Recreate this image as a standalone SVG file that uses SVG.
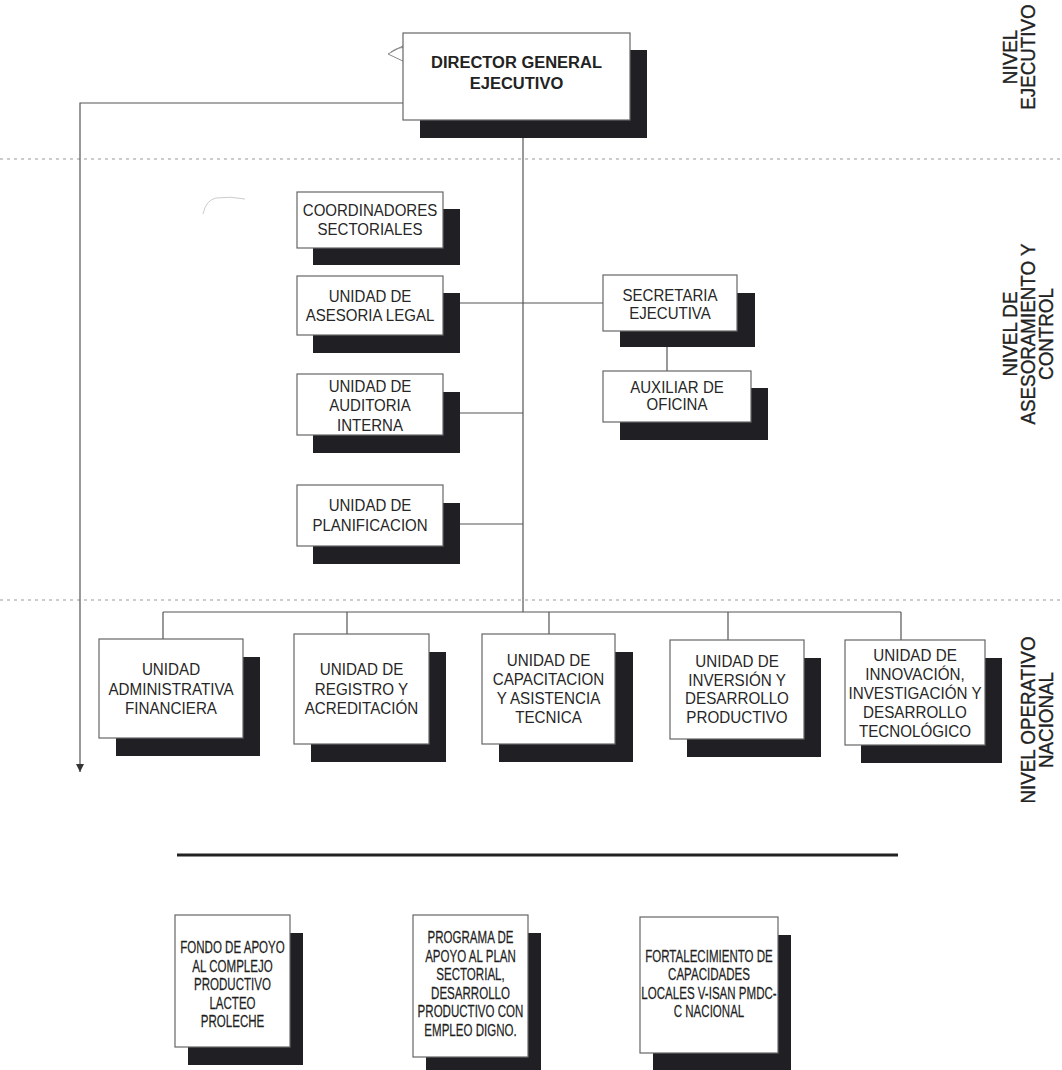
<svg xmlns="http://www.w3.org/2000/svg" width="1062" height="1070" viewBox="0 0 1062 1070">
<defs>
<marker id="arr" viewBox="0 0 10 10" refX="10" refY="5" markerWidth="10" markerHeight="8" orient="auto" markerUnits="userSpaceOnUse">
<path d="M0 0 L10 5 L0 10 Z" fill="#333"/>
</marker>
<style>
.box{fill:#fff;stroke:#666;stroke-width:1.2}
.sh{fill:#202024}
.t{font-family:"Liberation Sans",Arial,sans-serif;font-size:16px;fill:#262626;text-anchor:middle}
.tb{font-family:"Liberation Sans",Arial,sans-serif;font-size:17px;font-weight:bold;fill:#222;text-anchor:middle}
.ts{font-family:"Liberation Sans",Arial,sans-serif;font-size:17px;fill:#1e1e1e;stroke:#1e1e1e;stroke-width:0.25;text-anchor:middle}
.tv{font-family:"Liberation Sans",Arial,sans-serif;font-size:20px;fill:#222;stroke:#222;stroke-width:0.35;text-anchor:middle}
.ln{fill:none;stroke:#555;stroke-width:1.2}
.dot{fill:none;stroke:#999;stroke-width:1.2;stroke-dasharray:3 4}
</style>
</defs>
<rect width="1062" height="1070" fill="#fff"/>

<g id="level-lines">
<line class="dot" x1="0" y1="159" x2="1062" y2="159"/>
<line class="dot" x1="0" y1="600" x2="1062" y2="600"/>
</g>

<g id="connectors">
<path class="ln" d="M523 120 V612"/>
<path class="ln" d="M443 303 H603"/>
<path class="ln" d="M667 331 V371"/>
<path class="ln" d="M443 413 H523"/>
<path class="ln" d="M443 524 H523"/>
<path class="ln" d="M163 612 H901"/>
<path class="ln" d="M163 612 V639 M347 612 V634 M549 612 V634 M728 612 V640 M901 612 V640"/>
<path class="ln" d="M403 103 H80 V772" marker-end="url(#arr)"/>
<path fill="none" stroke="#222" stroke-width="3" d="M177 855 H898"/>
</g>

<g id="marks">
<path d="M410 42 L388 54 L407 63 M391 52 Q399 46 407 48" fill="none" stroke="#888" stroke-width="1"/>
<path d="M203 214 Q206 200 216 198 Q230 196 245 199" fill="none" stroke="#ccc" stroke-width="1"/>
</g>

<g id="director">
<rect class="sh" x="420" y="50" width="227" height="88"/>
<rect class="box" x="403" y="33" width="227" height="87"/>
<g transform="translate(516.5 0) scale(0.97 1)">
<text class="tb" x="0" y="68">DIRECTOR GENERAL</text>
<text class="tb" x="0" y="89">EJECUTIVO</text>
</g>
</g>

<g id="coordinadores">
<rect class="sh" x="313" y="209" width="147" height="56"/>
<rect class="box" x="297" y="192" width="146" height="56"/>
<g transform="translate(370 0) scale(0.94 1)">
<text class="t" x="0" y="216">COORDINADORES</text>
<text class="t" x="0" y="235">SECTORIALES</text>
</g>
</g>

<g id="asesoria">
<rect class="sh" x="313" y="293" width="147" height="60"/>
<rect class="box" x="297" y="276" width="146" height="59"/>
<g transform="translate(370 0) scale(0.94 1)">
<text class="t" x="0" y="302">UNIDAD DE</text>
<text class="t" x="0" y="321">ASESORIA LEGAL</text>
</g>
</g>

<g id="auditoria">
<rect class="sh" x="313" y="392" width="147" height="61"/>
<rect class="box" x="297" y="374" width="146" height="61"/>
<g transform="translate(370 0) scale(0.94 1)">
<text class="t" x="0" y="392">UNIDAD DE</text>
<text class="t" x="0" y="411">AUDITORIA</text>
<text class="t" x="0" y="431">INTERNA</text>
</g>
</g>

<g id="planificacion">
<rect class="sh" x="313" y="503" width="147" height="61"/>
<rect class="box" x="297" y="485" width="146" height="61"/>
<g transform="translate(370 0) scale(0.94 1)">
<text class="t" x="0" y="511">UNIDAD DE</text>
<text class="t" x="0" y="531">PLANIFICACION</text>
</g>
</g>

<g id="secretaria">
<rect class="sh" x="620" y="293" width="135" height="54"/>
<rect class="box" x="603" y="275" width="134" height="56"/>
<g transform="translate(670 0) scale(0.94 1)">
<text class="t" x="0" y="301">SECRETARIA</text>
<text class="t" x="0" y="319">EJECUTIVA</text>
</g>
</g>

<g id="auxiliar">
<rect class="sh" x="620" y="388" width="148" height="52"/>
<rect class="box" x="603" y="371" width="148" height="51"/>
<g transform="translate(677 0) scale(0.94 1)">
<text class="t" x="0" y="393">AUXILIAR DE</text>
<text class="t" x="0" y="410">OFICINA</text>
</g>
</g>

<g id="administrativa">
<rect class="sh" x="116" y="657" width="144" height="99"/>
<rect class="box" x="99" y="639" width="144" height="99"/>
<g transform="translate(171 0) scale(0.95 1)">
<text class="t" x="0" y="675">UNIDAD</text>
<text class="t" x="0" y="695">ADMINISTRATIVA</text>
<text class="t" x="0" y="714">FINANCIERA</text>
</g>
</g>

<g id="registro">
<rect class="sh" x="311" y="652" width="135" height="110"/>
<rect class="box" x="294" y="634" width="135" height="110"/>
<g transform="translate(361.5 0) scale(0.95 1)">
<text class="t" x="0" y="675">UNIDAD DE</text>
<text class="t" x="0" y="695">REGISTRO Y</text>
<text class="t" x="0" y="714">ACREDITACIÓN</text>
</g>
</g>

<g id="capacitacion">
<rect class="sh" x="499" y="652" width="134" height="110"/>
<rect class="box" x="482" y="634" width="133" height="110"/>
<g transform="translate(548.5 0) scale(0.95 1)">
<text class="t" x="0" y="666">UNIDAD DE</text>
<text class="t" x="0" y="685">CAPACITACION</text>
<text class="t" x="0" y="704">Y ASISTENCIA</text>
<text class="t" x="0" y="723">TECNICA</text>
</g>
</g>

<g id="inversion">
<rect class="sh" x="687" y="658" width="134" height="99"/>
<rect class="box" x="670" y="640" width="134" height="99"/>
<g transform="translate(737 0) scale(0.95 1)">
<text class="t" x="0" y="667">UNIDAD DE</text>
<text class="t" x="0" y="686">INVERSIÓN Y</text>
<text class="t" x="0" y="704">DESARROLLO</text>
<text class="t" x="0" y="723">PRODUCTIVO</text>
</g>
</g>

<g id="innovacion">
<rect class="sh" x="861" y="658" width="141" height="105"/>
<rect class="box" x="845" y="640" width="140" height="105"/>
<g transform="translate(915 0) scale(0.95 1)">
<text class="t" x="0" y="661">UNIDAD DE</text>
<text class="t" x="0" y="680">INNOVACIÓN,</text>
<text class="t" x="0" y="699">INVESTIGACIÓN Y</text>
<text class="t" x="0" y="718">DESARROLLO</text>
<text class="t" x="0" y="737">TECNOLÓGICO</text>
</g>
</g>

<g id="fondo">
<rect class="sh" x="188" y="933" width="115" height="132"/>
<rect class="box" x="175" y="915" width="115" height="132"/>
<g transform="translate(232.5 0) scale(0.68 1)">
<text class="ts" x="0" y="953.5">FONDO DE APOYO</text>
<text class="ts" x="0" y="972">AL COMPLEJO</text>
<text class="ts" x="0" y="990.5">PRODUCTIVO</text>
<text class="ts" x="0" y="1009">LACTEO</text>
<text class="ts" x="0" y="1027.5">PROLECHE</text>
</g>
</g>

<g id="programa">
<rect class="sh" x="426" y="933" width="115" height="143"/>
<rect class="box" x="413" y="915" width="115" height="142"/>
<g transform="translate(470.5 0) scale(0.68 1)">
<text class="ts" x="0" y="943.5">PROGRAMA DE</text>
<text class="ts" x="0" y="962">APOYO AL PLAN</text>
<text class="ts" x="0" y="980.5">SECTORIAL,</text>
<text class="ts" x="0" y="999">DESARROLLO</text>
<text class="ts" x="0" y="1017.5">PRODUCTIVO CON</text>
<text class="ts" x="0" y="1036">EMPLEO DIGNO.</text>
</g>
</g>

<g id="fortalecimiento">
<rect class="sh" x="653" y="935" width="138" height="143"/>
<rect class="box" x="640" y="917" width="138" height="136"/>
<g transform="translate(709 0) scale(0.68 1)">
<text class="ts" x="0" y="962">FORTALECIMIENTO DE</text>
<text class="ts" x="0" y="980.5">CAPACIDADES</text>
<text class="ts" x="0" y="999">LOCALES V-ISAN PMDC-</text>
<text class="ts" x="0" y="1017.5">C NACIONAL</text>
</g>
</g>

<g id="level-labels">
<g transform="translate(1017 57) rotate(-90) scale(0.94 1)"><text class="tv" x="0" y="0">NIVEL</text></g>
<g transform="translate(1035 57) rotate(-90) scale(0.94 1)"><text class="tv" x="0" y="0">EJECUTIVO</text></g>
<g transform="translate(1017 334) rotate(-90) scale(0.94 1)"><text class="tv" x="0" y="0">NIVEL DE</text></g>
<g transform="translate(1035 334) rotate(-90) scale(0.94 1)"><text class="tv" x="0" y="0">ASESORAMIENTO Y</text></g>
<g transform="translate(1053 334) rotate(-90) scale(0.94 1)"><text class="tv" x="0" y="0">CONTROL</text></g>
<g transform="translate(1035 720) rotate(-90) scale(0.94 1)"><text class="tv" x="0" y="0">NIVEL OPERATIVO</text></g>
<g transform="translate(1053 720) rotate(-90) scale(0.94 1)"><text class="tv" x="0" y="0">NACIONAL</text></g>
</g>
</svg>
